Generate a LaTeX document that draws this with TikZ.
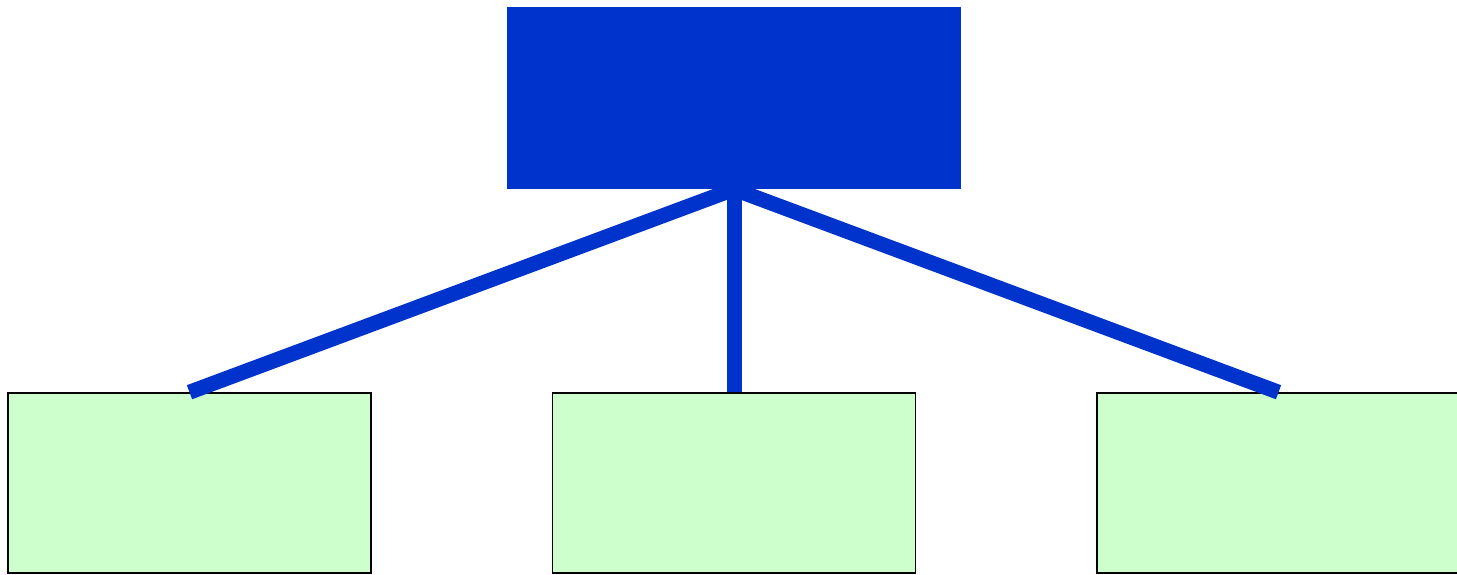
\documentclass[tikz,border=0pt]{standalone}
\definecolor{topblue}{RGB}{0,51,204}
\definecolor{leafgreen}{RGB}{204,255,204}
\pgfdeclarelayer{boxlayer}
\pgfdeclarelayer{linelayer}
\pgfsetlayers{boxlayer,linelayer,main}
\tikzset{
  topbox/.style={rectangle, fill=topblue, draw=none, minimum width=454pt, minimum height=182pt, inner sep=0pt},
  leafbox/.style={rectangle, fill=leafgreen, draw=black, line width=1.6pt, minimum width=363pt, minimum height=180pt, inner sep=0pt},
  conn/.style={draw=topblue, line width=15pt, line cap=butt}
}
\begin{document}
\begin{tikzpicture}[x=1pt,y=-1pt]
\useasboundingbox (0,0) rectangle (1457,574);
\node[topbox] (top) at (734,98) {};
\begin{pgfonlayer}{boxlayer}
\node[leafbox] (left) at (189.5,483) {};
\node[leafbox] (mid) at (734,483) {};
\node[leafbox] (right) at (1278.5,483) {};
\end{pgfonlayer}
\begin{pgfonlayer}{linelayer}
\draw[conn] (top.south) -- (left.north);
\draw[conn] (top.south) -- (mid.north);
\draw[conn] (top.south) -- (right.north);
\end{pgfonlayer}
\end{tikzpicture}
\end{document}
